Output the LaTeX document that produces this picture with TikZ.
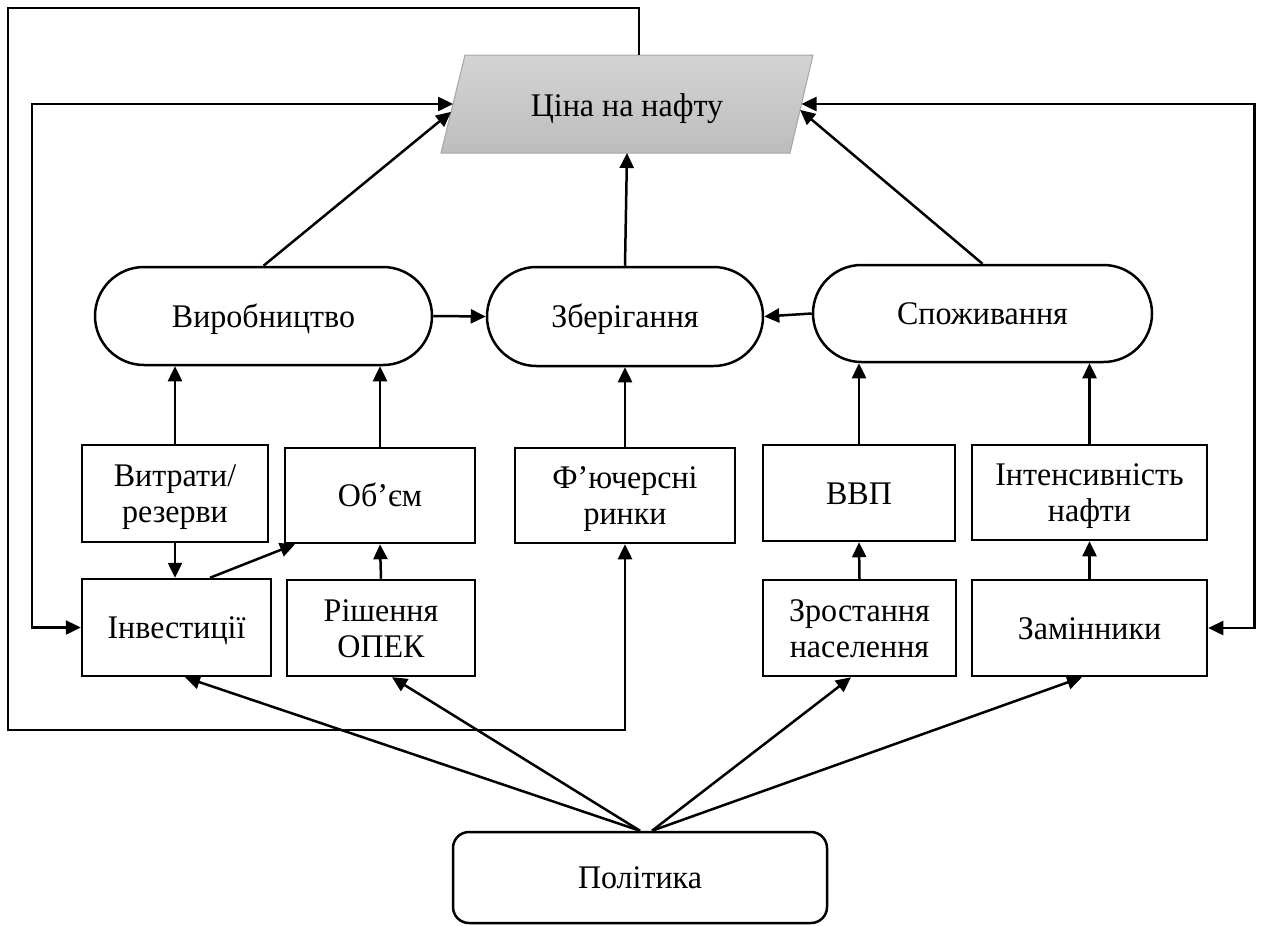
\documentclass[tikz,border=0pt]{standalone}
\usepackage{fontspec}
\setmainfont{Liberation Serif}[FakeStretch=0.97]
\usetikzlibrary{shapes.geometric,arrows.meta,calc}
\tikzset{
  txt/.style={inner sep=0pt, align=center, text height=22pt, text depth=0pt},
  two/.style={text height=58pt, text depth=0pt},
  box/.style={draw, line width=2.5pt, txt},
  stadium/.style={draw, line width=2.5pt, txt},
  pricebox/.style={draw=black!35, line width=1pt, top color=black!17, bottom color=black!26},
  conn/.style={line width=2.5pt, -{Triangle[length=15pt,width=14pt]}},
  conn2/.style={line width=2.5pt, {Triangle[length=15pt,width=14pt]}-{Triangle[length=15pt,width=14pt]}},
}
\begin{document}
\begin{tikzpicture}[x=1pt,y=-1pt,font=\fontsize{33}{36}\selectfont]
\useasboundingbox (0,0) rectangle (1261,926);
% price parallelogram
\coordinate (pTL) at (465,55);
\coordinate (pTR) at (813,55);
\coordinate (pBR) at (790,153);
\coordinate (pBL) at (441,153);
\path[pricebox] (pTL) -- (pTR) -- (pBR) -- (pBL) -- cycle;
\node[txt] (price) at (627,105) {Ціна на нафту};
\coordinate (pTop) at ($(pTL)!0.5!(pTR)$);
\coordinate (pL) at ($(pTL)!0.5!(pBL)$);
\coordinate (pL2) at ($(pTL)!0.58!(pBL)$);
\coordinate (pR) at ($(pTR)!0.5!(pBR)$);
\coordinate (pR2) at ($(pTR)!0.56!(pBR)$);
\coordinate (pB) at (price |- pBL);
% ovals
\node[stadium, minimum width=337pt, minimum height=98pt, rounded corners=49pt] (prod) at (263.5,316) {Виробництво};
\node[stadium, minimum width=276pt, minimum height=99pt, rounded corners=49.5pt] (store) at (625,316.5) {Зберігання};
\node[stadium, minimum width=339pt, minimum height=97pt, rounded corners=48.5pt] (cons) at (982.5,313.5) {Споживання};
% row 1
\node[box, two, minimum width=186pt, minimum height=97pt] (cost) at (175,493.5) {Витрати/\\резерви};
\node[box, minimum width=190pt, minimum height=95pt] (vol) at (380,495.5) {Об’єм};
\node[box, two, minimum width=220pt, minimum height=95pt] (fut) at (625,495.5) {Ф’ючерсні\\ринки};
\node[box, minimum width=192pt, minimum height=96pt] (gdp) at (859,493) {ВВП};
\node[box, two, minimum width=235pt, minimum height=95pt] (int) at (1089.5,492.5) {Інтенсивність\\нафти};
% row 2
\node[box, minimum width=189pt, minimum height=97pt] (inv) at (176.5,627.5) {Інвестиції};
\node[box, two, minimum width=188pt, minimum height=96pt] (opec) at (381,628) {Рішення\\ОПЕК};
\node[box, two, minimum width=193pt, minimum height=96pt] (pop) at (859.5,628) {Зростання\\населення};
\node[box, minimum width=235pt, minimum height=96pt] (sub) at (1089.5,628) {Замінники};
% politics
\node[box, minimum width=374pt, minimum height=91pt, rounded corners=16pt] (pol) at (640,877.5) {Політика};

% connectors up to ovals
\draw[conn] (cost.north) -- (cost.north |- prod.south);
\draw[conn] (vol.north) -- (vol.north |- prod.south);
\draw[conn] (fut.north) -- (fut.north |- store.south);
\draw[conn] (gdp.north) -- (gdp.north |- cons.south);
\draw[conn] (int.north) -- (int.north |- cons.south);
% row 2 to row 1
\draw[conn] (cost.south) -- (cost.south |- inv.north);
\draw[conn] ([xshift=33.5pt]inv.north) -- ([xshift=-85pt]vol.south);
\draw[conn] (opec.north) -- (vol.south);
\draw[conn] (pop.north) -- (gdp.south);
\draw[conn] (sub.north) -- (int.south);
% between ovals
\draw[conn] (prod.east) -- (store.west);
\draw[conn] (cons.west) -- (store.east);
% ovals to price
\draw[conn] (prod.north) -- (pL2);
\draw[conn] (store.north) -- (pB);
\draw[conn] (cons.north) -- (pR2);
% politics
\draw[conn] (pol.north) -- ([xshift=8.5pt]inv.south);
\draw[conn] (pol.north) -- ([xshift=11pt]opec.south);
\draw[conn] ([xshift=12pt]pol.north) -- ([xshift=-8.5pt]pop.south);
\draw[conn] ([xshift=12pt]pol.north) -- ([xshift=-7.5pt]sub.south);
% feedback loops
\draw[conn, line join=miter] (pTop) -- ++(0,-47) -| (8,730) -| (fut.south);
\draw[conn2, line join=miter] (pL) -| ($(inv.west)+(-49,0)$) -- (inv.west);
\draw[conn2, line join=miter] (pR) -| ($(sub.east)+(46,0)$) -- (sub.east);
\end{tikzpicture}
\end{document}
